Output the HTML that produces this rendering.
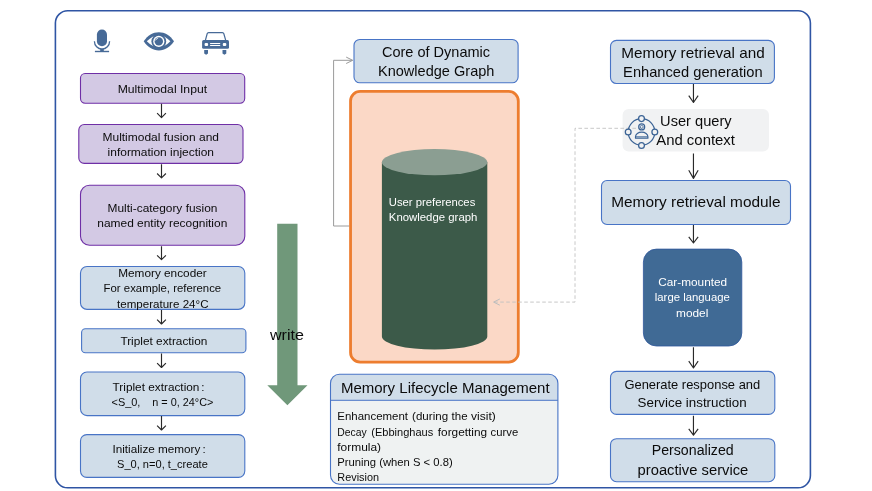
<!DOCTYPE html>
<html><head><meta charset="utf-8"><title>Diagram</title>
<style>
html,body{margin:0;padding:0;background:#ffffff;}
body{width:872px;height:491px;overflow:hidden;}
svg{display:block;will-change:transform;font-family:"Liberation Sans",sans-serif;}
</style></head><body>
<svg width="872" height="491" viewBox="0 0 872 491">
<rect x="55.40" y="10.80" width="755.00" height="477.00" rx="12.3" ry="12.3" fill="#ffffff" stroke="#2f55a4" stroke-width="1.6"/>
<rect x="96.9" y="29.5" width="10.1" height="16.8" rx="5.05" fill="#476a97"/>
<path d="M94.4 41.2 A7.6 7.9 0 0 0 109.6 41.2" fill="none" stroke="#476a97" stroke-width="1.3"/>
<path d="M100.2 48.6H103.8V51H100.2Z" fill="#476a97"/>
<path d="M94.9 51.5H109.1" fill="none" stroke="#476a97" stroke-width="1.4"/>
<path d="M143.7 41.35 C147.8 35.2 152.8 32.3 158.85 32.3 C164.9 32.3 169.9 35.2 174 41.35 C169.9 47.5 164.9 50.4 158.85 50.4 C152.8 50.4 147.8 47.5 143.7 41.35Z" fill="#476a97"/>
<path d="M146.8 41.35 Q158.8 29.1 170.4 41.35 Q158.8 53.6 146.8 41.35Z" fill="#fff"/>
<circle cx="158.8" cy="41.4" r="7.4" fill="#476a97"/>
<circle cx="158.8" cy="41.4" r="5.6" fill="#fff"/>
<circle cx="158.8" cy="41.4" r="4.2" fill="#476a97"/>
<path d="M155.6 40.4 A3.4 3.4 0 0 1 158.2 38" fill="none" stroke="#fff" stroke-width="0.8"/>
<path d="M205.3 40.6 L207.2 33.6 Q207.5 32.5 208.6 32.5 H222.4 Q223.5 32.5 223.8 33.6 L225.8 40.6" fill="#fff" stroke="#476a97" stroke-width="1.25" stroke-linejoin="round"/>
<rect x="202.1" y="40" width="26.9" height="8.8" rx="1.5" fill="#476a97"/>
<rect x="204.6" y="42.9" width="3.5" height="3.1" rx="1.1" fill="#fff"/><rect x="222.8" y="42.9" width="3.5" height="3.1" rx="1.1" fill="#fff"/>
<path d="M210.1 43.4H220.2M210.1 45.4H220.2" stroke="#fff" stroke-width="1.05" fill="none"/>
<path d="M204.2 50.1H208V53.4L206.1 54.7L204.2 53.4Z" fill="#476a97"/><path d="M222.5 50.1H226.3V53.4L224.4 54.7L222.5 53.4Z" fill="#476a97"/>
<rect x="80.50" y="73.50" width="164.20" height="29.70" rx="4.6" ry="4.6" fill="#d3c9e4" stroke="#6f2fa6" stroke-width="1.1"/>
<text x="117.70" y="92.50" font-size="11.55" fill="#0b0b0b" font-weight="normal" textLength="89.40" lengthAdjust="spacingAndGlyphs" xml:space="preserve">Multimodal Input</text>
<path d="M161.50 103.70V117.60M157.10 113.20L161.50 117.60L165.90 113.20" fill="none" stroke="#2a2a2a" stroke-width="1.15" stroke-linejoin="round" stroke-linecap="butt"/>
<rect x="78.80" y="124.50" width="164.20" height="38.90" rx="5.5" ry="5.5" fill="#d3c9e4" stroke="#6f2fa6" stroke-width="1.1"/>
<text x="102.50" y="141.10" font-size="11.55" fill="#0b0b0b" font-weight="normal" textLength="116.50" lengthAdjust="spacingAndGlyphs" xml:space="preserve">Multimodal fusion and</text>
<text x="107.60" y="155.90" font-size="11.55" fill="#0b0b0b" font-weight="normal" textLength="106.40" lengthAdjust="spacingAndGlyphs" xml:space="preserve">information injection</text>
<path d="M161.50 164.20V177.90M157.10 173.50L161.50 177.90L165.90 173.50" fill="none" stroke="#2a2a2a" stroke-width="1.15" stroke-linejoin="round" stroke-linecap="butt"/>
<rect x="80.50" y="185.20" width="164.30" height="60.10" rx="9" ry="9" fill="#d3c9e4" stroke="#6f2fa6" stroke-width="1.1"/>
<text x="107.60" y="212.00" font-size="11.55" fill="#0b0b0b" font-weight="normal" textLength="109.80" lengthAdjust="spacingAndGlyphs" xml:space="preserve">Multi-category fusion</text>
<text x="97.30" y="226.80" font-size="11.55" fill="#0b0b0b" font-weight="normal" textLength="130.00" lengthAdjust="spacingAndGlyphs" xml:space="preserve">named entity recognition</text>
<path d="M161.50 246.30V259.70M157.10 255.30L161.50 259.70L165.90 255.30" fill="none" stroke="#2a2a2a" stroke-width="1.15" stroke-linejoin="round" stroke-linecap="butt"/>
<rect x="80.50" y="266.50" width="164.30" height="42.90" rx="6.5" ry="6.5" fill="#d0dde9" stroke="#4874c6" stroke-width="1.1"/>
<text x="118.20" y="277.00" font-size="11.55" fill="#0b0b0b" font-weight="normal" textLength="88.50" lengthAdjust="spacingAndGlyphs" xml:space="preserve">Memory encoder</text>
<text x="103.60" y="292.00" font-size="11.55" fill="#0b0b0b" font-weight="normal" textLength="117.60" lengthAdjust="spacingAndGlyphs" xml:space="preserve">For example, reference</text>
<text x="117.00" y="307.70" font-size="11.55" fill="#0b0b0b" font-weight="normal" textLength="91.50" lengthAdjust="spacingAndGlyphs" xml:space="preserve">temperature 24°C</text>
<path d="M161.50 309.90V324.00M157.10 319.60L161.50 324.00L165.90 319.60" fill="none" stroke="#2a2a2a" stroke-width="1.15" stroke-linejoin="round" stroke-linecap="butt"/>
<rect x="81.60" y="328.80" width="164.30" height="24.00" rx="3.8" ry="3.8" fill="#d0dde9" stroke="#4874c6" stroke-width="1.1"/>
<text x="120.40" y="344.60" font-size="11.55" fill="#0b0b0b" font-weight="normal" textLength="87.00" lengthAdjust="spacingAndGlyphs" xml:space="preserve">Triplet extraction</text>
<path d="M161.50 353.60V367.50M157.10 363.10L161.50 367.50L165.90 363.10" fill="none" stroke="#2a2a2a" stroke-width="1.15" stroke-linejoin="round" stroke-linecap="butt"/>
<rect x="80.50" y="372.00" width="164.30" height="43.60" rx="6.5" ry="6.5" fill="#d0dde9" stroke="#4874c6" stroke-width="1.1"/>
<text x="112.60" y="390.80" font-size="11.55" fill="#0b0b0b" font-weight="normal" textLength="86.80" lengthAdjust="spacingAndGlyphs" xml:space="preserve">Triplet extraction</text>
<text x="201.3" y="390.8" font-size="11.55" fill="#0b0b0b">:</text>
<text x="111.50" y="405.60" font-size="11.55" fill="#0b0b0b" font-weight="normal" textLength="28.90" lengthAdjust="spacingAndGlyphs" xml:space="preserve">&lt;S_0,</text>
<text x="152.30" y="405.60" font-size="11.55" fill="#0b0b0b" font-weight="normal" textLength="61.10" lengthAdjust="spacingAndGlyphs" xml:space="preserve">n = 0, 24°C&gt;</text>
<path d="M161.50 416.10V430.00M157.10 425.60L161.50 430.00L165.90 425.60" fill="none" stroke="#2a2a2a" stroke-width="1.15" stroke-linejoin="round" stroke-linecap="butt"/>
<rect x="80.50" y="434.60" width="164.30" height="42.80" rx="6.3" ry="6.3" fill="#d0dde9" stroke="#4874c6" stroke-width="1.1"/>
<text x="112.40" y="453.00" font-size="11.55" fill="#0b0b0b" font-weight="normal" textLength="88.00" lengthAdjust="spacingAndGlyphs" xml:space="preserve">Initialize memory</text>
<text x="202.5" y="453.0" font-size="11.55" fill="#0b0b0b">:</text>
<text x="117.00" y="467.60" font-size="11.55" fill="#0b0b0b" font-weight="normal" textLength="90.80" lengthAdjust="spacingAndGlyphs" xml:space="preserve">S_0, n=0, t_create</text>
<path d="M277.2 223.7H297.5V385.2H307.5L287.4 405.2L267.3 385.2H277.2Z" fill="#70987a"/>
<text x="270.00" y="339.60" font-size="14.9" fill="#0b0b0b" font-weight="normal" textLength="33.90" lengthAdjust="spacingAndGlyphs" xml:space="preserve">write</text>
<path d="M349.5 226H333.6V60.3H352.4M346.2 57.1L352.7 60.3L346.2 63.5" fill="none" stroke="#9a9a9a" stroke-width="1"/>
<rect x="354.00" y="39.50" width="164.10" height="43.30" rx="5.8" ry="5.8" fill="#d0dde9" stroke="#4874c6" stroke-width="1.1"/>
<text x="381.90" y="57.10" font-size="14.8" fill="#0b0b0b" font-weight="normal" textLength="108.20" lengthAdjust="spacingAndGlyphs" xml:space="preserve">Core of Dynamic</text>
<text x="378.00" y="75.80" font-size="14.8" fill="#0b0b0b" font-weight="normal" textLength="116.40" lengthAdjust="spacingAndGlyphs" xml:space="preserve">Knowledge Graph</text>
<rect x="350.55" y="91.40" width="167.75" height="270.70" rx="9.6" ry="9.6" fill="#fbd8c6" stroke="#ed7d2f" stroke-width="2.8"/>
<path d="M381.9 162.2V336.5A52.7 13.1 0 0 0 487.3 336.5V162.2Z" fill="#3c5a49"/>
<ellipse cx="434.6" cy="162.2" rx="52.7" ry="13.1" fill="#8b9e92"/>
<text x="388.80" y="205.90" font-size="11.55" fill="#ffffff" font-weight="normal" textLength="86.50" lengthAdjust="spacingAndGlyphs" xml:space="preserve">User preferences</text>
<text x="388.80" y="220.90" font-size="11.55" fill="#ffffff" font-weight="normal" textLength="88.60" lengthAdjust="spacingAndGlyphs" xml:space="preserve">Knowledge graph</text>
<path d="M330.5 400.3V383.3A9 9 0 0 1 339.5 374.3H548.9A9 9 0 0 1 557.9 383.3V400.3Z" fill="#d0dde9"/>
<path d="M330.5 400.3V475.3A9 9 0 0 0 339.5 484.3H548.9A9 9 0 0 0 557.9 475.3V400.3Z" fill="#eff2f2"/>
<rect x="330.5" y="374.3" width="227.40" height="110.00" rx="9" fill="none" stroke="#4874c6" stroke-width="1.1"/>
<path d="M330.5 400.3H557.9" stroke="#4874c6" stroke-width="1" fill="none"/>
<text x="340.90" y="392.60" font-size="14.8" fill="#0b0b0b" font-weight="normal" textLength="208.70" lengthAdjust="spacingAndGlyphs" xml:space="preserve">Memory Lifecycle Management</text>
<text x="337.30" y="420.20" font-size="11.55" fill="#0b0b0b" font-weight="normal" textLength="70.70" lengthAdjust="spacingAndGlyphs" xml:space="preserve">Enhancement</text>
<text x="412.10" y="420.20" font-size="11.55" fill="#0b0b0b" font-weight="normal" textLength="36.00" lengthAdjust="spacingAndGlyphs" xml:space="preserve">(during</text>
<text x="451.60" y="420.20" font-size="11.55" fill="#0b0b0b" font-weight="normal" textLength="16.00" lengthAdjust="spacingAndGlyphs" xml:space="preserve">the</text>
<text x="471.10" y="420.20" font-size="11.55" fill="#0b0b0b" font-weight="normal" textLength="24.70" lengthAdjust="spacingAndGlyphs" xml:space="preserve">visit)</text>
<text x="337.30" y="435.70" font-size="11.55" fill="#0b0b0b" font-weight="normal" textLength="29.40" lengthAdjust="spacingAndGlyphs" xml:space="preserve">Decay</text>
<text x="371.30" y="435.70" font-size="11.55" fill="#0b0b0b" font-weight="normal" textLength="61.90" lengthAdjust="spacingAndGlyphs" xml:space="preserve">(Ebbinghaus</text>
<text x="437.80" y="435.70" font-size="11.55" fill="#0b0b0b" font-weight="normal" textLength="49.30" lengthAdjust="spacingAndGlyphs" xml:space="preserve">forgetting</text>
<text x="490.60" y="435.70" font-size="11.55" fill="#0b0b0b" font-weight="normal" textLength="27.60" lengthAdjust="spacingAndGlyphs" xml:space="preserve">curve</text>
<text x="337.30" y="450.60" font-size="11.55" fill="#0b0b0b" font-weight="normal" textLength="43.80" lengthAdjust="spacingAndGlyphs" xml:space="preserve">formula)</text>
<text x="337.30" y="465.80" font-size="11.55" fill="#0b0b0b" font-weight="normal" textLength="115.40" lengthAdjust="spacingAndGlyphs" xml:space="preserve">Pruning (when S &lt; 0.8)</text>
<text x="337.30" y="481.30" font-size="11.55" fill="#0b0b0b" font-weight="normal" textLength="41.70" lengthAdjust="spacingAndGlyphs" xml:space="preserve">Revision</text>
<rect x="610.50" y="40.40" width="163.90" height="43.10" rx="6" ry="6" fill="#d0dde9" stroke="#4874c6" stroke-width="1.1"/>
<text x="621.20" y="58.00" font-size="14.4" fill="#0b0b0b" font-weight="normal" textLength="143.50" lengthAdjust="spacingAndGlyphs" xml:space="preserve">Memory retrieval and</text>
<text x="623.10" y="77.00" font-size="14.4" fill="#0b0b0b" font-weight="normal" textLength="139.50" lengthAdjust="spacingAndGlyphs" xml:space="preserve">Enhanced generation</text>
<path d="M693.45 84.00V102.50M688.75 95.70L693.45 102.50L698.15 95.70" fill="none" stroke="#2a2a2a" stroke-width="1.15" stroke-linejoin="round" stroke-linecap="butt"/>
<rect x="622.6" y="108.9" width="146.4" height="42.6" rx="6" fill="#f1f2f3"/>
<path d="M642 128.3H575V302.1H494" fill="none" stroke="#c2c2c2" stroke-width="0.9" stroke-dasharray="3.6 2.4"/>
<path d="M499.8 299L493.6 302.1L499.8 305.2" fill="none" stroke="#bdbdbd" stroke-width="1"/>
<circle cx="641.5" cy="132" r="13.3" fill="none" stroke="#3b6395" stroke-width="1.25"/>
<circle cx="641.5" cy="118.6" r="2.9" fill="#f1f2f3" stroke="#3b6395" stroke-width="1.25"/>
<circle cx="641.5" cy="145.4" r="2.9" fill="#f1f2f3" stroke="#3b6395" stroke-width="1.25"/>
<circle cx="628.2" cy="132" r="2.9" fill="#f1f2f3" stroke="#3b6395" stroke-width="1.25"/>
<circle cx="654.8" cy="132" r="2.9" fill="#f1f2f3" stroke="#3b6395" stroke-width="1.25"/>
<circle cx="641.7" cy="126.9" r="3" fill="none" stroke="#3b6395" stroke-width="1.2"/>
<circle cx="641.7" cy="126.9" r="1.5" fill="none" stroke="#3b6395" stroke-width="0.8"/>
<path d="M635.5 138.2V136.8A6.2 4.6 0 0 1 647.9 136.8V138.2Z" fill="none" stroke="#3b6395" stroke-width="1.2" stroke-linejoin="round"/>
<path d="M635.5 136.7H647.9" fill="none" stroke="#3b6395" stroke-width="0.8"/>
<text x="660.10" y="126.00" font-size="14.4" fill="#0b0b0b" font-weight="normal" textLength="71.50" lengthAdjust="spacingAndGlyphs" xml:space="preserve">User query</text>
<text x="656.20" y="145.30" font-size="14.4" fill="#0b0b0b" font-weight="normal" textLength="78.80" lengthAdjust="spacingAndGlyphs" xml:space="preserve">And context</text>
<path d="M693.45 153.60V178.40M688.75 170.30L693.45 178.40L698.15 170.30" fill="none" stroke="#2a2a2a" stroke-width="1.15" stroke-linejoin="round" stroke-linecap="butt"/>
<rect x="601.50" y="180.50" width="189.00" height="44.00" rx="5.5" ry="5.5" fill="#d0dde9" stroke="#4874c6" stroke-width="1.1"/>
<text x="611.20" y="207.40" font-size="14.8" fill="#0b0b0b" font-weight="normal" textLength="169.40" lengthAdjust="spacingAndGlyphs" xml:space="preserve">Memory retrieval module</text>
<path d="M693.45 225.00V243.00M688.75 236.80L693.45 243.00L698.15 236.80" fill="none" stroke="#2a2a2a" stroke-width="1.15" stroke-linejoin="round" stroke-linecap="butt"/>
<rect x="643.4" y="249.1" width="98.4" height="96.9" rx="13" fill="#406a95" stroke="#2f579c" stroke-width="0.8"/>
<text x="658.30" y="286.30" font-size="11.55" fill="#ffffff" font-weight="normal" textLength="68.80" lengthAdjust="spacingAndGlyphs" xml:space="preserve">Car-mounted</text>
<text x="654.80" y="301.40" font-size="11.55" fill="#ffffff" font-weight="normal" textLength="75.00" lengthAdjust="spacingAndGlyphs" xml:space="preserve">large language</text>
<text x="676.00" y="316.80" font-size="11.55" fill="#ffffff" font-weight="normal" textLength="32.30" lengthAdjust="spacingAndGlyphs" xml:space="preserve">model</text>
<path d="M693.45 347.20V368.00M688.75 361.20L693.45 368.00L698.15 361.20" fill="none" stroke="#2a2a2a" stroke-width="1.15" stroke-linejoin="round" stroke-linecap="butt"/>
<rect x="610.50" y="371.40" width="164.30" height="43.00" rx="6" ry="6" fill="#d0dde9" stroke="#4874c6" stroke-width="1.1"/>
<text x="624.40" y="388.80" font-size="12.7" fill="#0b0b0b" font-weight="normal" textLength="135.80" lengthAdjust="spacingAndGlyphs" xml:space="preserve">Generate response and</text>
<text x="637.60" y="406.50" font-size="12.7" fill="#0b0b0b" font-weight="normal" textLength="109.10" lengthAdjust="spacingAndGlyphs" xml:space="preserve">Service instruction</text>
<path d="M693.45 415.70V435.20M688.75 428.80L693.45 435.20L698.15 428.80" fill="none" stroke="#2a2a2a" stroke-width="1.15" stroke-linejoin="round" stroke-linecap="butt"/>
<rect x="610.50" y="438.70" width="164.30" height="43.00" rx="6" ry="6" fill="#d0dde9" stroke="#4874c6" stroke-width="1.1"/>
<text x="651.70" y="455.40" font-size="14.9" fill="#0b0b0b" font-weight="normal" textLength="82.00" lengthAdjust="spacingAndGlyphs" xml:space="preserve">Personalized</text>
<text x="637.60" y="475.20" font-size="14.9" fill="#0b0b0b" font-weight="normal" textLength="110.70" lengthAdjust="spacingAndGlyphs" xml:space="preserve">proactive service</text>
</svg>
</body></html>
